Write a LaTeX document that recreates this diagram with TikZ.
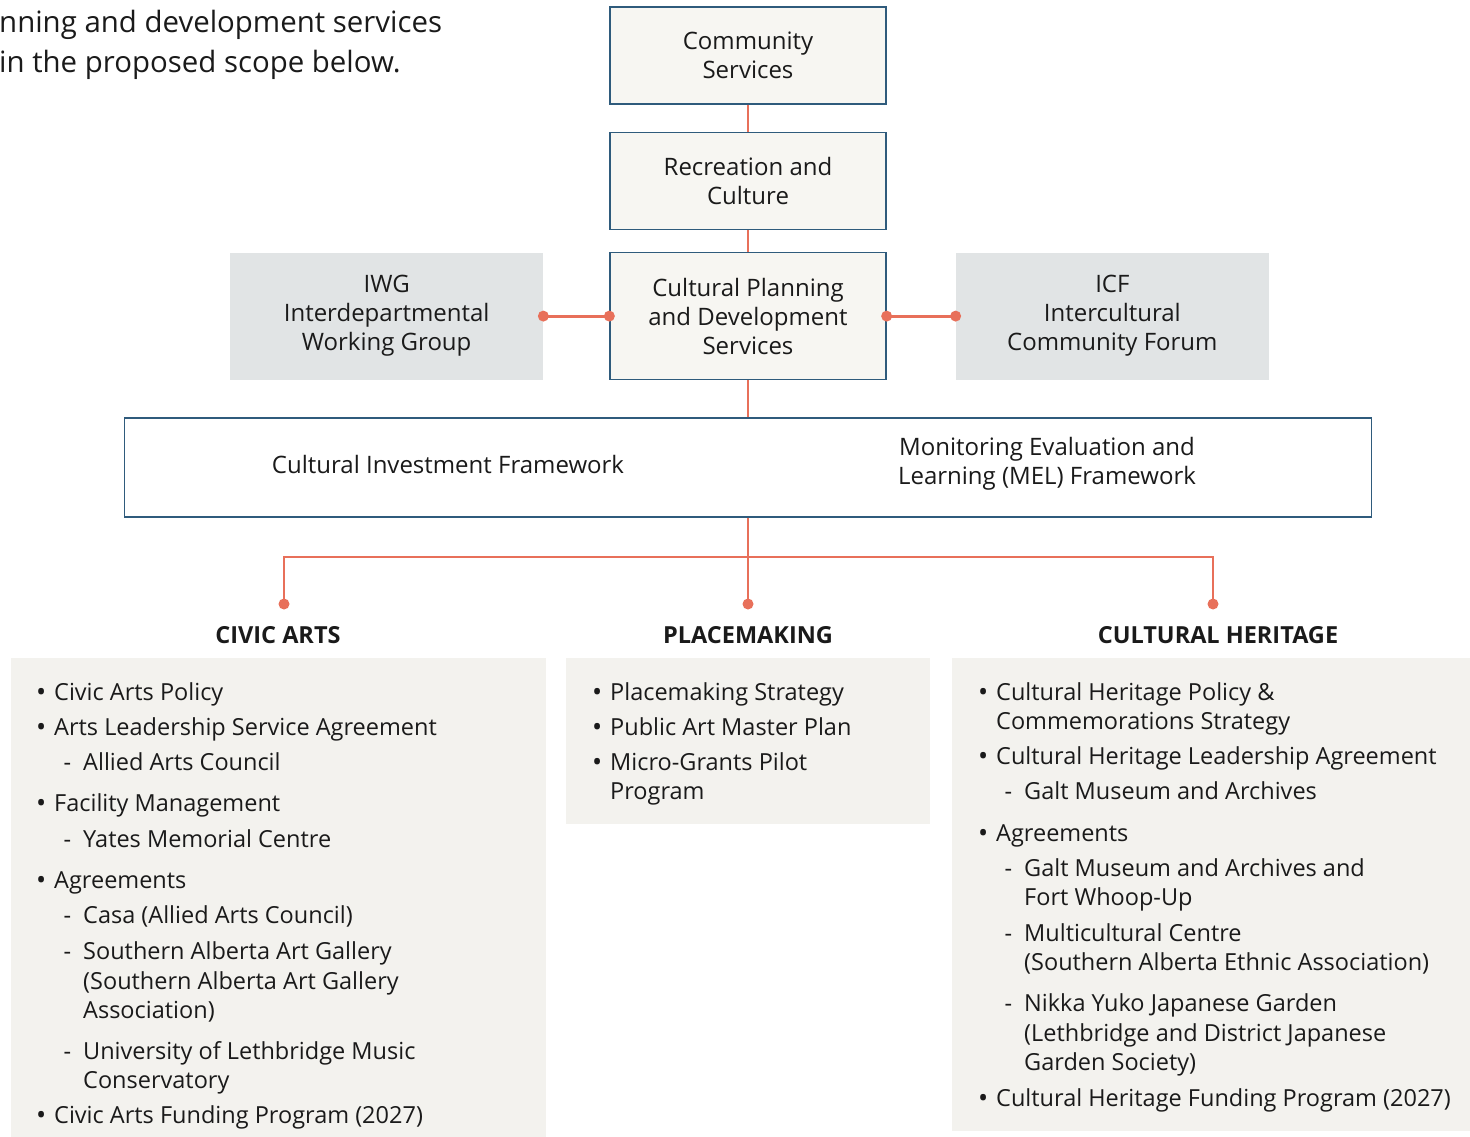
\documentclass[tikz,border=0pt]{standalone}
\usepackage{fontspec}
\setmainfont{Open Sans}
\usetikzlibrary{positioning}

\definecolor{boxblue}{HTML}{2F5B7C}
\definecolor{boxfill}{HTML}{F7F6F2}
\definecolor{forumgray}{HTML}{E1E4E5}
\definecolor{panelfill}{HTML}{F3F2EE}
\definecolor{accent}{HTML}{E8705A}
\definecolor{ink}{HTML}{1A1A1A}

\newcommand{\txt}{\fontsize{23.5}{29}\selectfont}
\newcommand{\boxtxt}{\fontsize{24}{29}\selectfont}
\newcommand{\bul}{\llap{\raisebox{-1pt}{\fontsize{27}{27}\selectfont\textbullet}\hspace{8pt}}}
\newcommand{\dsh}{\llap{-\hspace{12pt}}}

\begin{document}
\begin{tikzpicture}[x=1pt, y=-1pt,
    unit/.style={draw=boxblue, line width=1.3pt, fill=boxfill, minimum width=276pt,
        minimum height=97pt, align=center, font=\boxtxt, text=ink, inner sep=0pt},
    forum/.style={fill=forumgray, minimum width=313pt, minimum height=127pt,
        align=center, font=\boxtxt, text=ink, inner sep=0pt},
    link/.style={draw=accent, line width=2.8pt},
    panel/.style={fill=panelfill, anchor=north west, inner sep=0pt},
    head/.style={anchor=base, font=\txt\bfseries, text=ink},
    itm/.style={anchor=base west, font=\txt, text=ink, inner sep=0pt},
    intro/.style={anchor=base west, font=\fontsize{29.4}{40}\selectfont, text=ink, inner sep=0pt}]

    \useasboundingbox (0,0) rectangle (1470,1137);

    % Intro text
    \node [intro] (intro1) at (-1,33) {nning and development services};
    \node [intro] (intro2) at (-1,73) {in the proposed scope below.};

    % Units
    \node [unit] (cs) at (748,55.5) {Community\\Services};
    \node [unit] (rc) [below=27pt of cs] {Recreation and\\Culture};
    \node [unit, minimum height=127pt] (cp) [below=22pt of rc] {Cultural Planning\\and Development\\Services};
    \node [forum] (iwg) [left=66pt of cp] {IWG\\Interdepartmental\\Working Group};
    \node [forum] (icf) [right=69pt of cp] {ICF\\Intercultural\\Community Forum};
    \node [unit, fill=white, minimum width=1247pt, minimum height=99pt] (fw) [below=37pt of cp] {};
    \node [font=\boxtxt, text=ink] (cif) at (448,464) {Cultural Investment Framework};
    \node [font=\boxtxt, text=ink, align=center] (mel) at (1047,464) {Monitoring Evaluation and\\Learning (MEL) Framework};

    % Paths
    \path [link] (cs) -- (rc);
    \path [link] (rc) -- (cp);
    \path [link] (cp) -- (fw);
    \path [link] (iwg.east) -- (cp.west);
    \path [link] (cp.east) -- (icf.west);
    \foreach \p in {iwg.east, cp.west, cp.east, icf.west}
        \fill [accent] (\p) circle (5.5pt);

    \coordinate (caDot) at (284,604);
    \coordinate (pmDot) at (fw.south |- caDot);
    \coordinate (chDot) at (1213,604);
    \coordinate (split) at (fw.south |- 0,557);
    \path [link] (caDot) |- (split) -| (chDot);
    \path [link] (fw.south) -- (pmDot);
    \foreach \p in {caDot, pmDot, chDot}
        \fill [accent] (\p) circle (5.5pt);

    % Headings
    \node [head] (caHead) at (278,643) {CIVIC ARTS};
    \node [head] (pmHead) at (748,643) {PLACEMAKING};
    \node [head] (chHead) at (1218,643) {CULTURAL HERITAGE};

    % Panels
    \node [panel, minimum width=535pt, minimum height=479pt] (caBox) at (11,658) {};
    \node [panel, minimum width=364pt, minimum height=166pt] (pmBox) at (566,658) {};
    \node [panel, minimum width=518pt, minimum height=473pt] (chBox) at (952,658) {};

    % Civic arts
    \node [itm] (ca1) at (54,700) {\bul Civic Arts Policy};
    \node [itm] (ca2) at (54,735) {\bul Arts Leadership Service Agreement};
    \node [itm] (ca3) at (83,770) {\dsh Allied Arts Council};
    \node [itm] (ca4) at (54,811) {\bul Facility Management};
    \node [itm] (ca5) at (83,847) {\dsh Yates Memorial Centre};
    \node [itm] (ca6) at (54,888) {\bul Agreements};
    \node [itm] (ca7) at (83,923) {\dsh Casa (Allied Arts Council)};
    \node [itm] (ca8) at (83,959) {\dsh Southern Alberta Art Gallery};
    \node [itm] (ca9) at (83,989) {(Southern Alberta Art Gallery};
    \node [itm] (ca10) at (83,1018) {Association)};
    \node [itm] (ca11) at (83,1059) {\dsh University of Lethbridge Music};
    \node [itm] (ca12) at (83,1088) {Conservatory};
    \node [itm] (ca13) at (54,1123) {\bul Civic Arts Funding Program (2027)};

    % Placemaking
    \node [itm] (pm1) at (610,700) {\bul Placemaking Strategy};
    \node [itm] (pm2) at (610,735) {\bul Public Art Master Plan};
    \node [itm] (pm3) at (610,770) {\bul Micro-Grants Pilot};
    \node [itm] (pm4) at (610,799) {Program};

    % Cultural heritage
    \node [itm] (ch1) at (996,700) {\bul Cultural Heritage Policy \&};
    \node [itm] (ch2) at (996,729) {Commemorations Strategy};
    \node [itm] (ch3) at (996,764) {\bul Cultural Heritage Leadership Agreement};
    \node [itm] (ch4) at (1024,799) {\dsh Galt Museum and Archives};
    \node [itm] (ch5) at (996,841) {\bul Agreements};
    \node [itm] (ch6) at (1024,876) {\dsh Galt Museum and Archives and};
    \node [itm] (ch7) at (1024,905) {Fort Whoop-Up};
    \node [itm] (ch8) at (1024,941) {\dsh Multicultural Centre};
    \node [itm] (ch9) at (1024,970) {(Southern Alberta Ethnic Association)};
    \node [itm] (ch10) at (1024,1011) {\dsh Nikka Yuko Japanese Garden};
    \node [itm] (ch11) at (1024,1041) {(Lethbridge and District Japanese};
    \node [itm] (ch12) at (1024,1070) {Garden Society)};
    \node [itm] (ch13) at (996,1106) {\bul Cultural Heritage Funding Program (2027)};

\end{tikzpicture}
\end{document}
